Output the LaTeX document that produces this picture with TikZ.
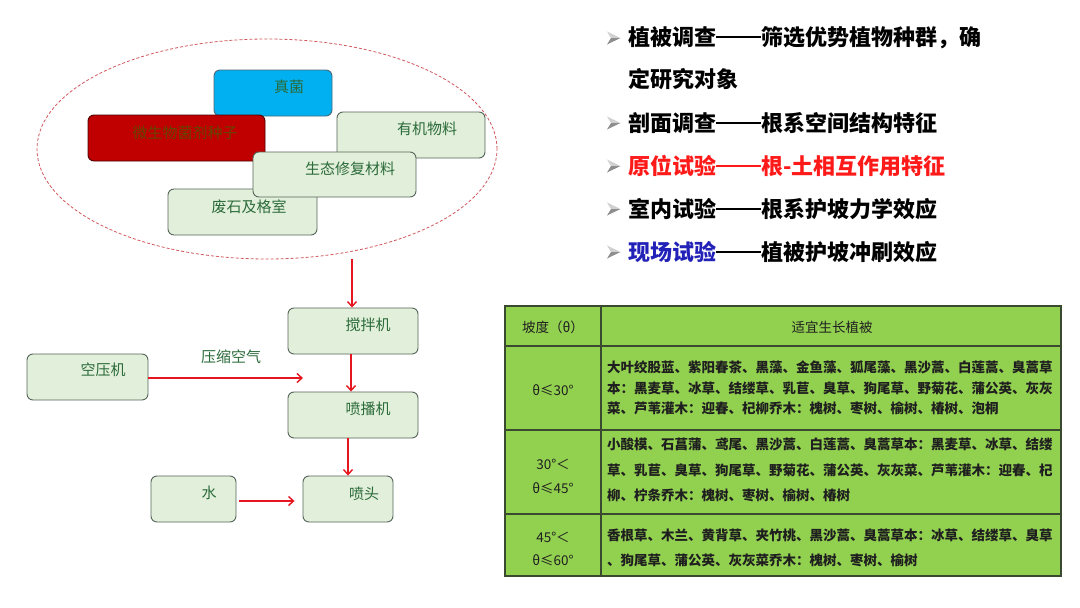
\documentclass[tikz,border=0pt]{standalone}
\usepackage{fontspec}
\newfontfamily\cjk{Noto Sans CJK SC}
\usetikzlibrary{shapes.geometric,arrows.meta}
\definecolor{boxfill}{HTML}{E2EFDA}
\definecolor{boxline}{HTML}{56655A}
\definecolor{txtgreen}{HTML}{2B6B3A}
\definecolor{cyanbox}{HTML}{00B0F0}
\definecolor{redbox}{HTML}{C00000}
\definecolor{arrowred}{HTML}{E5161E}
\definecolor{ellred}{HTML}{D2585E}
\definecolor{tablegreen}{HTML}{92D050}
\definecolor{tableline}{HTML}{3A4A30}
\definecolor{titleblue}{HTML}{2222B8}
\definecolor{titlered}{HTML}{FF1A1A}
\definecolor{bulletlight}{HTML}{D0D0D0}
\definecolor{bulletdark}{HTML}{8E8E8E}
\newcommand\longdash{\rule[7.6pt]{45pt}{1.8pt}}
\begin{document}
\begin{tikzpicture}[x=1pt,y=-1pt,
  gbox/.style={draw=boxline, fill=boxfill, rounded corners=6pt, line width=0.9pt, inner sep=0pt},
  lbl/.style={font=\cjk\fontsize{15}{18}\selectfont, text=txtgreen, inner sep=0pt},
  flowarrow/.style={draw=arrowred, line width=1.4pt, -{Straight Barb[length=5pt,width=9pt,line width=1.4pt]}},
  title/.style={font=\cjk\bfseries\fontsize{22}{26}\selectfont, anchor=west, inner sep=0pt},
  tcell/.style={font=\cjk\fontsize{13.5}{20}\selectfont, text=black!88, inner sep=0pt},
  tbody/.style={tcell, font=\cjk\bfseries\fontsize{13.5}{20.5}\selectfont, anchor=north west, align=left},
]
\useasboundingbox[fill=white] (0,0) rectangle (1080,608);

% ---------- dashed cluster ----------
\node[ellipse, draw=ellred, densely dashed, line width=0.8pt, minimum width=460pt, minimum height=220pt, inner sep=0pt] (cloud) at (267,149) {};

% boxes in cluster
\node[gbox, fill=cyanbox, draw=black!60!cyan, minimum width=118pt, minimum height=46pt] (zhenjun) at (273,93) {};
\node[lbl] (zhenjunT) at (289,87) {真菌};
\node[gbox, fill=redbox, draw=black!70!red, minimum width=177pt, minimum height=46pt] (weisheng) at (176.5,138) {};
\node[lbl, text=black!55!green!60!red] (weishengT) at (185,133) {微生物菌剂种子};
\node[gbox, minimum width=148pt, minimum height=46pt] (youji) at (411,135) {};
\node[lbl] (youjiT) at (427,129) {有机物料};
\node[gbox, minimum width=149pt, minimum height=46pt] (feishi) at (242.5,212) {};
\node[lbl] (feishiT) at (249,207) {废石及格室};
\node[gbox, minimum width=163pt, minimum height=45pt] (shengtai) at (334.5,174.5) {};
\node[lbl] (shengtaiT) at (350,169) {生态修复材料};

% ---------- flow ----------
\node[gbox, minimum width=130pt, minimum height=46pt] (jiaoban) at (353,331) {};
\node[lbl] (jiaobanT) at (368,325) {搅拌机};
\node[gbox, minimum width=121pt, minimum height=46pt] (kongya) at (87.5,377) {};
\node[lbl] (kongyaT) at (103,370) {空压机};
\node[gbox, minimum width=130pt, minimum height=46pt] (penbo) at (353,415) {};
\node[lbl] (penboT) at (368,409) {喷播机};
\node[gbox, minimum width=85pt, minimum height=46pt] (shui) at (193.5,499) {};
\node[lbl] (shuiT) at (209,493) {水};
\node[gbox, minimum width=90pt, minimum height=46pt] (pentou) at (348,499) {};
\node[lbl] (pentouT) at (364,494) {喷头};

\coordinate (air) at (303,378);
\node[lbl] (airT) at (231,357) {压缩空气};

\draw[flowarrow] ([xshift=-1pt]jiaoban.north |- cloud.south) -- ([xshift=-1pt]jiaoban.north);
\draw[flowarrow] ([xshift=-2pt]jiaoban.south) -- ([xshift=-2pt]penbo.north);
\draw[flowarrow] (kongya.east |- air) -- (air);
\draw[flowarrow] (pentou.north |- penbo.south) -- (pentou.north);
\draw[flowarrow, shorten <=3pt, shorten >=8pt] ([yshift=-2pt]shui.east) -- ([yshift=-2pt]shui.east -| pentou.west);

% ---------- title list ----------
\foreach \yy/\nm in {38/b1,123/b3,166/b4,209/b5,252/b6}{
  \coordinate (\nm) at (607,\yy);
  \fill[bulletlight] (\nm) ++(0,-6.5) -- ++(13.5,6.5) -- ++(-9.5,0) -- cycle;
  \fill[bulletdark] (\nm) ++(0,6.5) -- ++(13.5,-6.5) -- ++(-9.5,0) -- cycle;
}
\node[title] (l1) at (628,38) {植被调查\longdash 筛选优势植物种群，确};
\node[title] (l2) at (628,79) {定研究对象};
\node[title] (l3) at (628,123) {剖面调查\longdash 根系空间结构特征};
\node[title, text=titlered] (l4) at (628,166) {原位试验{\color{titlered}\longdash}根-土相互作用特征};
\node[title] (l5) at (628,209) {室内试验\longdash 根系护坡力学效应};
\node[title] (l6) at (628,252) {\textcolor{titleblue}{现场试验}\longdash 植被护坡冲刷效应};

% ---------- table ----------
\fill[tablegreen] (505,306) rectangle (1061,576);
\draw[tableline, line width=1.3pt] (505,306) rectangle (1061,576);
\draw[tableline, line width=1.3pt] (601,306) -- (601,576);
\draw[tableline, line width=1.3pt] (505,346) -- (1061,346);
\draw[tableline, line width=1.3pt] (505,430) -- (1061,430);
\draw[tableline, line width=1.3pt] (505,514) -- (1061,514);

\node[tcell] (h1) at (553,327) {坡度（θ）};
\node[tcell] (h2) at (832,327) {适宜生长植被};

\node[tcell] (a1) at (553,390) {θ≤30°};
\node[tcell, align=center] (a2) at (553,476) {30°＜\\[4pt]θ≤45°};
\node[tcell, align=center] (a3) at (553,549) {45°＜\\[3pt]θ≤60°};

\node[tbody] (c1) at (607,361) {大叶绞股蓝、紫阳春茶、黑藻、金鱼藻、狐尾藻、黑沙蒿、白莲蒿、臭蒿草\\本：黑麦草、冰草、结缕草、乳苣、臭草、狗尾草、野菊花、蒲公英、灰灰\\菜、芦苇灌木：迎春、杞柳乔木：槐树、枣树、榆树、椿树、泡桐};
\node[tbody] (c2) at (607,438) {小酸模、石菖蒲、鸢尾、黑沙蒿、白莲蒿、臭蒿草本：黑麦草、冰草、结缕\\[5pt]草、乳苣、臭草、狗尾草、野菊花、蒲公英、灰灰菜、芦苇灌木：迎春、杞\\[5pt]柳、柠条乔木：槐树、枣树、榆树、椿树};
\node[tbody] (c3) at (607,529) {香根草、木兰、黄背草、夹竹桃、黑沙蒿、臭蒿草本：冰草、结缕草、臭草\\[4pt]、狗尾草、蒲公英、灰灰菜乔木：槐树、枣树、榆树};
\end{tikzpicture}
\end{document}
